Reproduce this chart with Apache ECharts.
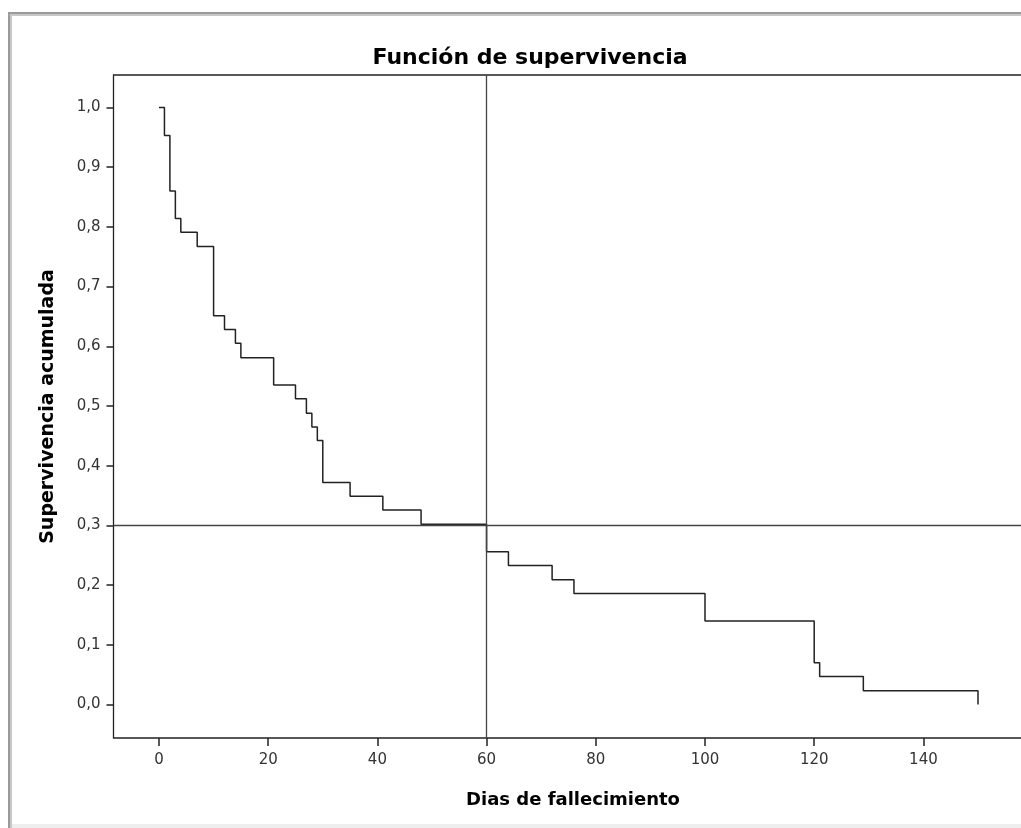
<!DOCTYPE html>
<html>
<head>
<meta charset="utf-8">
<script src="https://cdn.jsdelivr.net/npm/echarts@6/dist/echarts.min.js"></script>
<style>
html,body{margin:0;padding:0;background:#fff;}
#chart{width:1021px;height:828px;}
</style>
</head>
<body>
<div id="chart"></div>
<script>
// ---- data ----
const times = [0, 1, 2, 3, 4, 7, 10, 12, 14, 15, 21, 25, 27, 28, 29, 30, 35, 41, 48, 60, 64, 72, 76, 100, 120, 121, 129, 150];
const survival = [1.000, 0.953, 0.860, 0.814, 0.791, 0.767, 0.651, 0.628, 0.605, 0.581, 0.535, 0.512, 0.488, 0.465, 0.442, 0.372, 0.349, 0.326, 0.302, 0.256, 0.233, 0.209, 0.186, 0.140, 0.070, 0.047, 0.023, 0.000];
const refTime = 60;
const refSurvival = 0.3;
const xTickMin = 0, xTickMax = 140, xTickStep = 20;
const yTickMin = 0, yTickMax = 1, yTickStep = 0.1;
const titleText = 'Función de supervivencia';
const xName = 'Dias de fallecimiento';
const yName = 'Supervivencia acumulada';

const chart = echarts.init(document.getElementById('chart'), null, {renderer: 'canvas'});
const seriesData = times.map((t, i) => [t, survival[i]]);
const FONT = 'DejaVu Sans';
const AXIS_LINE = {show: true, onZero: false, lineStyle: {color: '#222', width: 1.3}};

chart.setOption({
  animation: false,
  backgroundColor: '#ffffff',
  title: {
    text: titleText,
    left: 525,
    top: 42,
    textAlign: 'center',
    textStyle: {fontFamily: FONT, fontWeight: 'bold', fontSize: 22, color: '#000'}
  },
  graphic: [
    {type: 'rect', shape: {x: 8, y: 12, width: 1013, height: 2}, style: {fill: '#9a9a9a'}, silent: true},
    {type: 'rect', shape: {x: 8, y: 14, width: 1013, height: 2}, style: {fill: '#c8c8c8'}, silent: true},
    {type: 'rect', shape: {x: 8, y: 12, width: 2, height: 816}, style: {fill: '#9a9a9a'}, silent: true},
    {type: 'rect', shape: {x: 10, y: 14, width: 2, height: 814}, style: {fill: '#c8c8c8'}, silent: true},
    {type: 'rect', shape: {x: 12, y: 824, width: 1009, height: 4}, style: {fill: '#eeeeee'}, silent: true}
  ],
  grid: [
    {left: 113.5, top: 75, width: 919.1, height: 663, outerBoundsMode: 'none', show: true, borderColor: '#222', borderWidth: 1.3, backgroundColor: 'transparent', containLabel: false},
    {left: 159, top: 107.5, width: 764.4, height: 597, outerBoundsMode: 'none', show: false, containLabel: false}
  ],
  xAxis: [
    {
      gridIndex: 0, type: 'value', min: -8.33, max: 160,
      axisLine: {show: false}, axisTick: {show: false}, axisLabel: {show: false}, splitLine: {show: false},
      name: xName, nameLocation: 'middle', nameGap: 53,
      nameTextStyle: {fontFamily: FONT, fontWeight: 'bold', fontSize: 18, color: '#000'}
    },
    {
      gridIndex: 1, type: 'value', min: xTickMin, max: xTickMax, interval: xTickStep, offset: 33.5,
      axisLine: {show: false, onZero: false},
      axisTick: {show: true, length: 8, lineStyle: {color: '#222', width: 1.5}},
      axisLabel: {margin: 15, fontFamily: FONT, fontSize: 15, color: '#333'},
      splitLine: {show: false}
    }
  ],
  yAxis: [
    {
      gridIndex: 0, type: 'value', min: -0.0561, max: 1.0544,
      axisLine: {show: false}, axisTick: {show: false}, axisLabel: {show: false}, splitLine: {show: false},
      name: yName, nameLocation: 'middle', nameGap: 56, nameRotate: 90,
      nameTextStyle: {fontFamily: FONT, fontWeight: 'bold', fontSize: 19, color: '#000'}
    },
    {
      gridIndex: 1, type: 'value', min: yTickMin, max: yTickMax, interval: yTickStep, offset: 45.5,
      axisLine: {show: false, onZero: false},
      axisTick: {show: true, length: 7, lineStyle: {color: '#222', width: 1.5}},
      axisLabel: {margin: 13, fontFamily: FONT, fontSize: 15, color: '#333',
        formatter: v => v.toFixed(1).replace('.', ',')},
      splitLine: {show: false}
    }
  ],
  series: [
    {
      type: 'line', xAxisIndex: 0, yAxisIndex: 0,
      data: seriesData, step: 'end', symbol: 'none', clip: false,
      lineStyle: {color: '#222', width: 1.5},
      markLine: {
        silent: true, symbol: ['none', 'none'], label: {show: false},
        lineStyle: {color: '#444', width: 1.3, type: 'solid'},
        data: [{xAxis: refTime}, {yAxis: refSurvival}]
      }
    }
  ]
});
</script>
</body>
</html>
